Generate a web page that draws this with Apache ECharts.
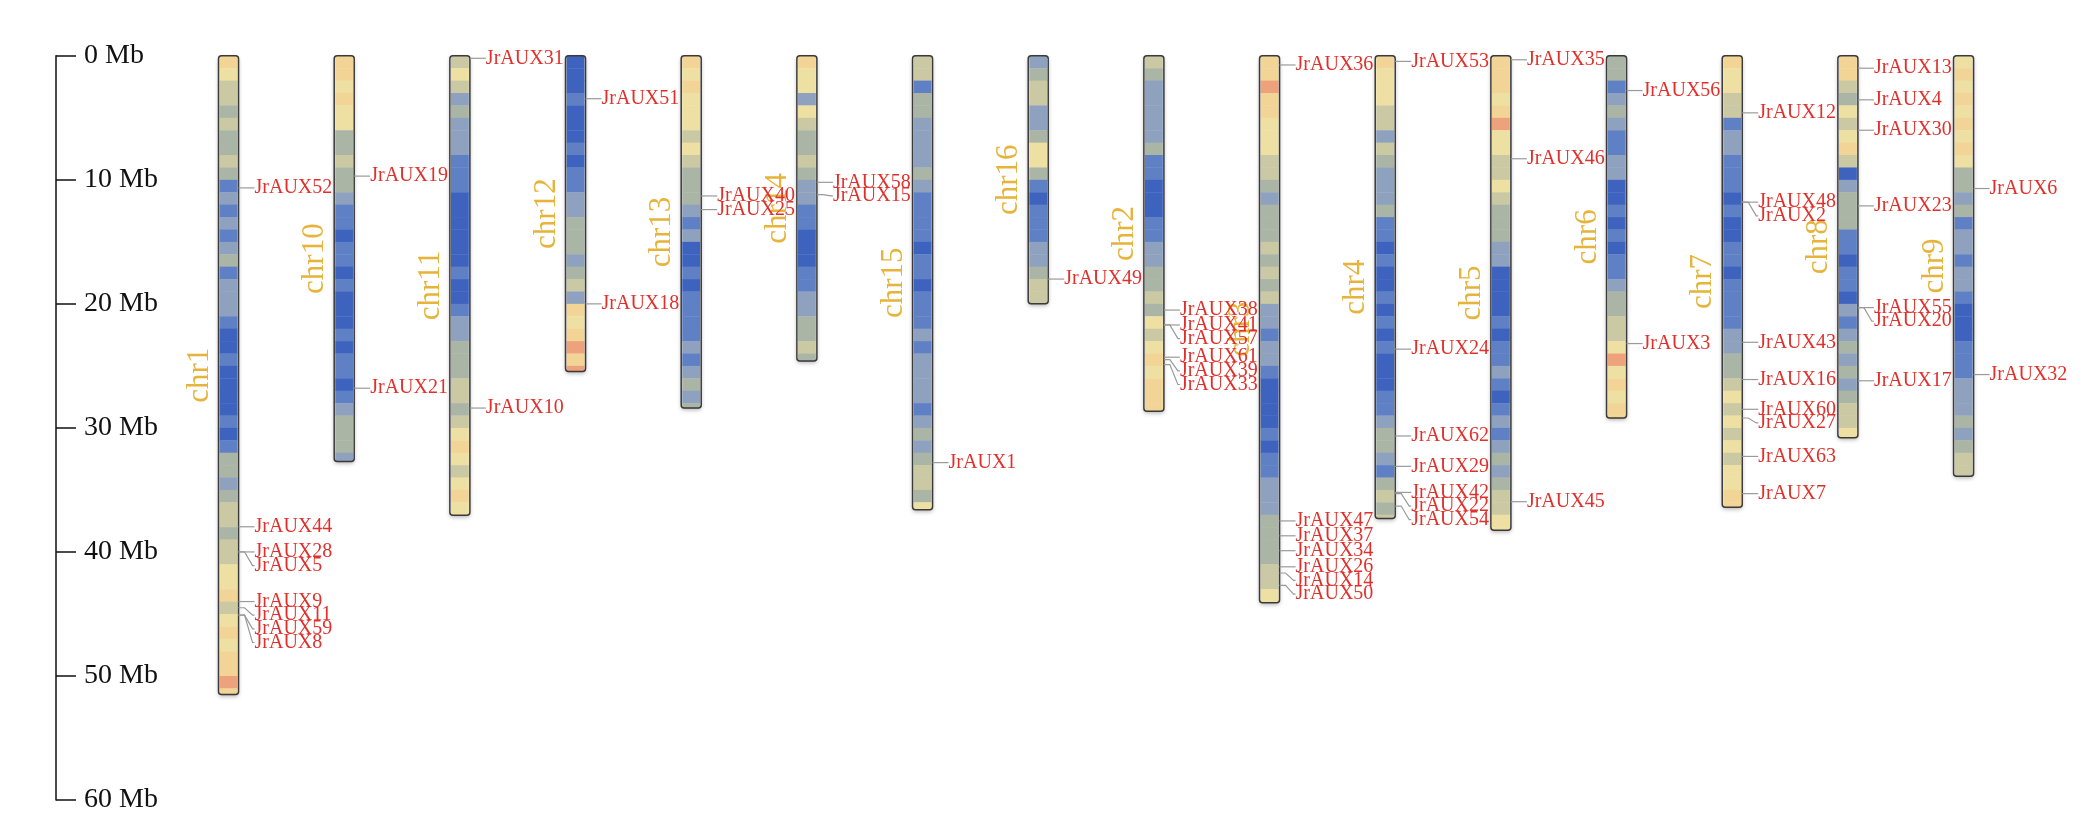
<!DOCTYPE html>
<html><head><meta charset="utf-8">
<script src="https://cdn.jsdelivr.net/npm/echarts@6/dist/echarts.min.js"></script>
<style>html,body{margin:0;padding:0;background:#fff}#c{width:2083px;height:826px}</style>
</head><body><div id="c"></div>
<script>
// ---- data ----
const chromosomes = ['chr1','chr10','chr11','chr12','chr13','chr14','chr15','chr16','chr2','chr3','chr4','chr5','chr6','chr7','chr8','chr9'];
const chromLengths = [51.5, 32.7, 37.05, 25.45, 28.4, 24.6, 36.6, 20.0, 28.65, 44.1, 37.3, 38.25, 29.2, 36.4, 30.8, 33.9];
const yTickLabels = ['0 Mb','10 Mb','20 Mb','30 Mb','40 Mb','50 Mb','60 Mb'];

// density level per 1 Mb bin (0 = low/blue ... 9 = high/red)
const density_chr1  = [7,6,5,5,4,5,4,4,5,4,2,3,2,3,2,3,4,2,3,3,3,2,1,1,2,1,1,1,1,2,1,2,4,4,3,4,5,5,4,5,5,6,6,7,5,6,7,6,7,7,8,7];
const density_chr10 = [7,7,6,7,6,6,4,4,5,4,4,3,2,2,1,2,2,1,2,1,1,1,2,1,2,2,1,2,3,4,4,4,3];
const density_chr11 = [5,6,5,3,4,3,3,3,2,2,2,1,1,1,1,1,1,2,1,1,2,3,3,4,4,4,5,5,4,5,6,7,6,5,6,7,6];
const density_chr12 = [1,1,1,2,1,1,1,2,1,2,2,3,3,4,4,4,3,4,5,3,7,6,7,8,7,8];
const density_chr13 = [7,6,7,6,6,6,5,6,5,4,4,4,3,2,3,1,1,2,1,2,2,2,2,3,2,3,4,3,4];
const density_chr14 = [7,6,6,3,6,5,4,4,5,4,3,3,2,2,1,1,1,2,2,3,3,4,4,5,4];
const density_chr15 = [5,5,2,4,4,3,3,3,3,4,3,2,2,2,2,1,2,2,1,2,2,2,3,2,3,3,3,3,2,3,4,3,4,5,5,4,6];
const density_chr16 = [3,4,5,5,3,3,4,6,6,4,2,1,2,2,2,3,3,4,5,5];
const density_chr2  = [5,4,3,3,3,3,3,4,2,2,1,1,1,2,2,3,3,4,4,5,4,6,5,6,7,6,7,7,7];
const density_chr3  = [7,7,8,7,7,6,6,6,5,5,4,3,4,4,4,5,4,5,4,5,3,3,2,3,3,2,1,1,1,1,2,1,2,2,3,3,3,4,4,4,4,5,5,6,6];
const density_chr4  = [7,6,6,6,5,5,3,5,4,3,3,3,4,2,2,1,2,1,1,2,1,2,1,2,1,1,1,2,2,3,4,4,3,2,4,5,4,5];
const density_chr5  = [7,7,7,6,7,8,6,6,5,5,6,5,4,4,4,3,3,1,1,1,1,2,1,2,2,3,2,1,2,3,2,3,4,3,4,5,5,6,6];
const density_chr6  = [4,4,2,3,4,3,2,2,3,3,1,1,2,1,2,1,2,2,3,4,4,5,5,6,8,6,7,6,7,7];
const density_chr7  = [7,6,6,5,5,2,3,3,2,2,2,1,2,1,1,2,2,1,2,2,2,2,3,3,4,4,5,6,5,6,5,6,5,6,6,7,7];
const density_chr8  = [7,7,5,4,6,5,6,7,5,1,3,4,4,4,2,2,1,2,2,1,3,2,3,4,3,4,3,4,5,5,6];
const density_chr9  = [6,7,6,7,6,7,6,7,6,4,4,3,4,2,3,3,2,3,3,2,1,1,1,2,2,2,3,3,3,4,3,4,5,5];

const geneNames = ['JrAUX52','JrAUX44','JrAUX28','JrAUX5','JrAUX9','JrAUX11','JrAUX59','JrAUX8',
  'JrAUX19','JrAUX21','JrAUX31','JrAUX10','JrAUX51','JrAUX18','JrAUX40','JrAUX25','JrAUX58','JrAUX15',
  'JrAUX1','JrAUX49','JrAUX38','JrAUX41','JrAUX57','JrAUX61','JrAUX39','JrAUX33',
  'JrAUX36','JrAUX47','JrAUX37','JrAUX34','JrAUX26','JrAUX14','JrAUX50',
  'JrAUX53','JrAUX24','JrAUX62','JrAUX29','JrAUX42','JrAUX22','JrAUX54',
  'JrAUX35','JrAUX46','JrAUX45','JrAUX56','JrAUX3',
  'JrAUX12','JrAUX48','JrAUX2','JrAUX43','JrAUX16','JrAUX60','JrAUX27','JrAUX63','JrAUX7',
  'JrAUX13','JrAUX4','JrAUX30','JrAUX23','JrAUX55','JrAUX20','JrAUX17','JrAUX6','JrAUX32'];
const geneChroms = ['chr1','chr1','chr1','chr1','chr1','chr1','chr1','chr1',
  'chr10','chr10','chr11','chr11','chr12','chr12','chr13','chr13','chr14','chr14',
  'chr15','chr16','chr2','chr2','chr2','chr2','chr2','chr2',
  'chr3','chr3','chr3','chr3','chr3','chr3','chr3',
  'chr4','chr4','chr4','chr4','chr4','chr4','chr4',
  'chr5','chr5','chr5','chr6','chr6',
  'chr7','chr7','chr7','chr7','chr7','chr7','chr7','chr7','chr7',
  'chr8','chr8','chr8','chr8','chr8','chr8','chr8','chr9','chr9'];
const genePositions = [10.65,37.97,40.0,40.0,44.0,44.5,45.1,45.1,
  9.7,26.8,0.2,28.4,3.46,20.0,11.3,12.4,10.2,11.2,
  32.8,18.0,20.5,21.7,21.7,24.3,24.5,24.9,
  0.74,37.5,38.7,39.9,41.2,41.7,42.7,
  0.45,23.65,30.65,33.1,35.2,35.3,36.3,
  0.32,8.3,35.95,2.8,23.2,
  4.6,11.8,11.8,23.1,26.1,28.5,29.2,32.3,35.3,
  1.0,3.55,6.0,12.1,20.3,20.3,26.2,10.7,25.7];

// ---- build ----
const densities = [density_chr1,density_chr10,density_chr11,density_chr12,density_chr13,density_chr14,density_chr15,density_chr16,
  density_chr2,density_chr3,density_chr4,density_chr5,density_chr6,density_chr7,density_chr8,density_chr9];
const palette = ['#2f52b0','#3e63bf','#5f80c4','#8ea2bf','#aab5a6','#cac9a4','#eee0a3','#f2d596','#eea27c','#df5a42'];
const SERIF = '"Liberation Serif","Times New Roman",serif';
const MIN_GAP = 1.1; // Mb between stacked labels

// label layout: push overlapping labels downward
const geneData = [];
chromosomes.forEach((c, ci) => {
  const idx = geneNames.map((n,i)=>i).filter(i => geneChroms[i] === c)
    .sort((a,b) => genePositions[a]-genePositions[b]);
  let last = -Infinity;
  idx.forEach(i => {
    const lp = Math.max(genePositions[i], last + MIN_GAP);
    last = lp;
    geneData.push({value:[ci, genePositions[i], lp], name: geneNames[i]});
  });
});

const chart = echarts.init(document.getElementById('c'));
const gridLeft = 170.7, gridTop = 55.8;
const BAR_W = 20;

chart.setOption({
  backgroundColor:'#fff',
  animation:false,
  grid:{left:gridLeft, top:gridTop, width:1850.7, bottom:26},
  xAxis:{type:'category', data:chromosomes, show:false},
  yAxis:{type:'value', inverse:true, min:0, max:60, interval:10, offset:gridLeft-56,
    axisLine:{show:true, lineStyle:{color:'#111', width:1.5}},
    axisTick:{show:true, inside:true, length:20, lineStyle:{color:'#111', width:1.5}},
    axisLabel:{inside:true, margin:28, color:'#111', fontFamily:SERIF, fontSize:28,
      formatter:v => yTickLabels[Math.round(v/10)]},
    splitLine:{show:false}},
  series:[
    {type:'custom', clip:false, silent:true,
     data: chromosomes.map((c,i)=>[i, chromLengths[i]]),
     renderItem:function(params, api){
       const i = api.value(0), len = api.value(1);
       const top = api.coord([i,0]), bot = api.coord([i,len]);
       const cx = top[0], x0 = cx-BAR_W/2;
       const ch = [];
       ch.push({type:'rect', shape:{x:x0, y:top[1], width:BAR_W, height:bot[1]-top[1], r:3},
         style:{fill:'#fff', shadowBlur:4, shadowColor:'rgba(0,0,0,0.3)', shadowOffsetY:2}});
       const d = densities[i];
       for (let k=0;k<d.length;k++){
         const y0 = api.coord([i,k])[1];
         const y1 = api.coord([i,Math.min(k+1,len)])[1];
         if (y1 <= y0) continue;
         ch.push({type:'rect', shape:{x:x0+1, y:y0, width:BAR_W-2, height:y1-y0+0.4},
           style:{fill:palette[d[k]]}});
       }
       ch.push({type:'rect', shape:{x:x0, y:top[1], width:BAR_W, height:bot[1]-top[1], r:3},
         style:{fill:'none', stroke:'#3a3a3a', lineWidth:1.5}});
       ch.push({type:'text', x:cx-29, y:(top[1]+bot[1])/2, rotation:Math.PI/2,
         style:{text:chromosomes[i], fill:'#e6b43a', font:'31px '+SERIF, align:'center', verticalAlign:'middle'}});
       return {type:'group', children:ch};
     }},
    {type:'custom', clip:false, silent:true,
     data: geneData,
     renderItem:function(params, api){
       const i = api.value(0);
       const g = api.coord([i, api.value(1)]);
       const l = api.coord([i, api.value(2)]);
       const xr = g[0] + BAR_W/2;
       return {type:'group', children:[
         {type:'polyline', shape:{points:[[xr,g[1]],[xr+6,g[1]],[xr+14,l[1]],[xr+16,l[1]]]},
          style:{stroke:'#9a9a9a', lineWidth:1.2, fill:'none'}},
         {type:'text', x:xr+16, y:l[1],
          style:{text:geneData[params.dataIndex].name, fill:'#e0302b', font:'20px '+SERIF, align:'left', verticalAlign:'middle'}}
       ]};
     }}
  ]
});
</script></body></html>
